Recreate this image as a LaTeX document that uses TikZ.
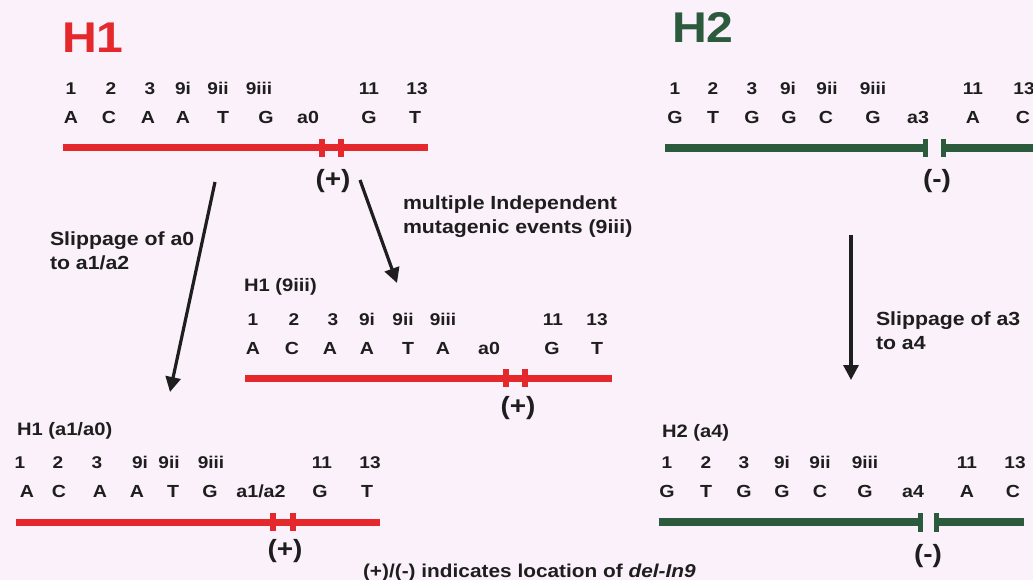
\documentclass[tikz,border=0pt]{standalone}
\usepackage{fontspec}
\setmainfont{Liberation Sans}
\newfontfamily\labelfont[FakeStretch=1.12]{Liberation Sans}
\usetikzlibrary{arrows.meta}
\definecolor{bg}{HTML}{FBF1FA}
\definecolor{hred}{HTML}{E4282B}
\definecolor{hgreen}{HTML}{2B5B3C}
\definecolor{ink}{HTML}{1E1E1E}
\begin{document}
\begin{tikzpicture}[x=1pt,y=-1pt,
  every node/.style={inner sep=0pt,outer sep=0pt,text=ink},
  num/.style={anchor=base,font=\labelfont\bfseries\fontsize{17}{17}\selectfont},
  nuc/.style={anchor=base,font=\labelfont\bfseries\fontsize{17.5}{17.5}\selectfont},
  bigtitle/.style={anchor=base west,font=\labelfont\bfseries\fontsize{43}{43}\selectfont},
  subtitle/.style={anchor=base west,font=\labelfont\bfseries\fontsize{18}{18}\selectfont},
  eventlbl/.style={anchor=north west,align=left,font=\labelfont\bfseries\fontsize{19}{24}\selectfont},
  sign/.style={anchor=center,font=\labelfont\bfseries\fontsize{25}{25}\selectfont},
  redbar/.style={draw=hred,line width=7pt},
  greenbar/.style={draw=hgreen,line width=8pt},
  arr/.style={draw=ink,line width=3.2pt,-{Triangle[length=15pt,width=15pt]}}
]
\fill[bg] (0,0) rectangle (1033,580);
\useasboundingbox (0,0) rectangle (1033,580);

% ---------------- H1 ----------------
\node[bigtitle,text=hred] (tH1) at (62,53) {H1};
\foreach \x/\t [count=\i] in {71/1,111/2,150/3,183/9i,218/9ii,259/9iii,369/11,417/13}
  \node[num] (h1n\i) at (\x,95) {\t};
\foreach \x/\t [count=\i] in {71/A,109/C,148/A,183/A,223/T,266/G,308/a0,369/G,415/T}
  \node[nuc] (h1b\i) at (\x,124) {\t};
\draw[redbar] (63,148) -- (428,148);
\fill[hred] (319,139) rectangle (325,157);
\fill[hred] (338,139) rectangle (344,157);
\node[sign] (h1s) at (333,181) {(+)};

% ---------------- H2 ----------------
\node[bigtitle,text=hgreen] (tH2) at (672,43) {H2};
\foreach \x/\t [count=\i] in {675/1,713/2,752/3,788/9i,827/9ii,873/9iii,973/11,1024/13}
  \node[num] (h2n\i) at (\x,95) {\t};
\foreach \x/\t [count=\i] in {675/G,713/T,752/G,789/G,826/C,873/G,918/a3,973/A,1023/C}
  \node[nuc] (h2b\i) at (\x,124) {\t};
\draw[greenbar] (665,148) -- (926,148);
\fill[hgreen] (923,139) rectangle (928,157);
\fill[hgreen] (941,139) rectangle (946,157);
\draw[greenbar] (943,148) -- (1033,148);
\node[sign] (h2s) at (937,181) {(-)};

% ---------------- H1 (9iii) ----------------
\node[subtitle] (tH1m) at (244,291) {H1 (9iii)};
\foreach \x/\t [count=\i] in {253/1,294/2,333/3,367/9i,403/9ii,443/9iii,553/11,597/13}
  \node[num] (h1mn\i) at (\x,325) {\t};
\foreach \x/\t [count=\i] in {253/A,292/C,330/A,367/A,408/T,443/A,489/a0,552/G,597/T}
  \node[nuc] (h1mb\i) at (\x,354) {\t};
\draw[redbar] (245,378) -- (612,378);
\fill[hred] (503,369) rectangle (509,387);
\fill[hred] (522,369) rectangle (528,387);
\node[sign] (h1ms) at (518,408) {(+)};

% ---------------- H1 (a1/a0) ----------------
\node[subtitle] (tH1b) at (17,435) {H1 (a1/a0)};
\foreach \x/\t [count=\i] in {20/1,58/2,97/3,140/9i,169/9ii,211/9iii,322/11,370/13}
  \node[num] (h1bn\i) at (\x,468) {\t};
\foreach \x/\t [count=\i] in {27/A,59/C,100/A,137/A,173/T,210/G,261/a1\slash a2,320/G,367/T}
  \node[nuc] (h1bb\i) at (\x,497) {\t};
\draw[redbar] (16,522) -- (380,522);
\fill[hred] (270,513) rectangle (276,531);
\fill[hred] (290,513) rectangle (296,531);
\node[sign] (h1bs) at (285,551) {(+)};

% ---------------- H2 (a4) ----------------
\node[subtitle] (tH2b) at (662,437) {H2 (a4)};
\foreach \x/\t [count=\i] in {667/1,706/2,744/3,782/9i,820/9ii,865/9iii,967/11,1015/13}
  \node[num] (h2bn\i) at (\x,468) {\t};
\foreach \x/\t [count=\i] in {667/G,706/T,744/G,782/G,820/C,865/G,913/a4,967/A,1013/C}
  \node[nuc] (h2bb\i) at (\x,497) {\t};
\draw[greenbar] (659,522) -- (921,522);
\fill[hgreen] (918,513) rectangle (923,532);
\fill[hgreen] (934,513) rectangle (939,532);
\draw[greenbar] (936,522) -- (1024,522);
\node[sign] (h2bs) at (928,556) {(-)};

% ---------------- events ----------------
\coordinate (slipA) at (215,182);
\coordinate (slipAend) at (170,392);
\coordinate (mutA) at (360,180);
\coordinate (mutAend) at (397,283);
\coordinate (slipB) at (851,235);
\coordinate (slipBend) at (851,380);
\draw[arr] (slipA) -- (slipAend);
\draw[arr] (mutA) -- (mutAend);
\draw[arr] (slipB) -- (slipBend);
\node[eventlbl] (lslipA) at (50,232) {Slippage of a0\\to a1/a2};
\node[eventlbl] (lmut) at (403,196) {multiple Independent\\mutagenic events (9iii)};
\node[eventlbl] (lslipB) at (876,312) {Slippage of a3\\to a4};

% ---------------- key ----------------
\node[anchor=base west,font=\labelfont\bfseries\fontsize{18.6}{18.6}\selectfont] (key) at (363,577)
  {(+)/(-) indicates location of \textit{del-In9}};
\end{tikzpicture}
\end{document}
